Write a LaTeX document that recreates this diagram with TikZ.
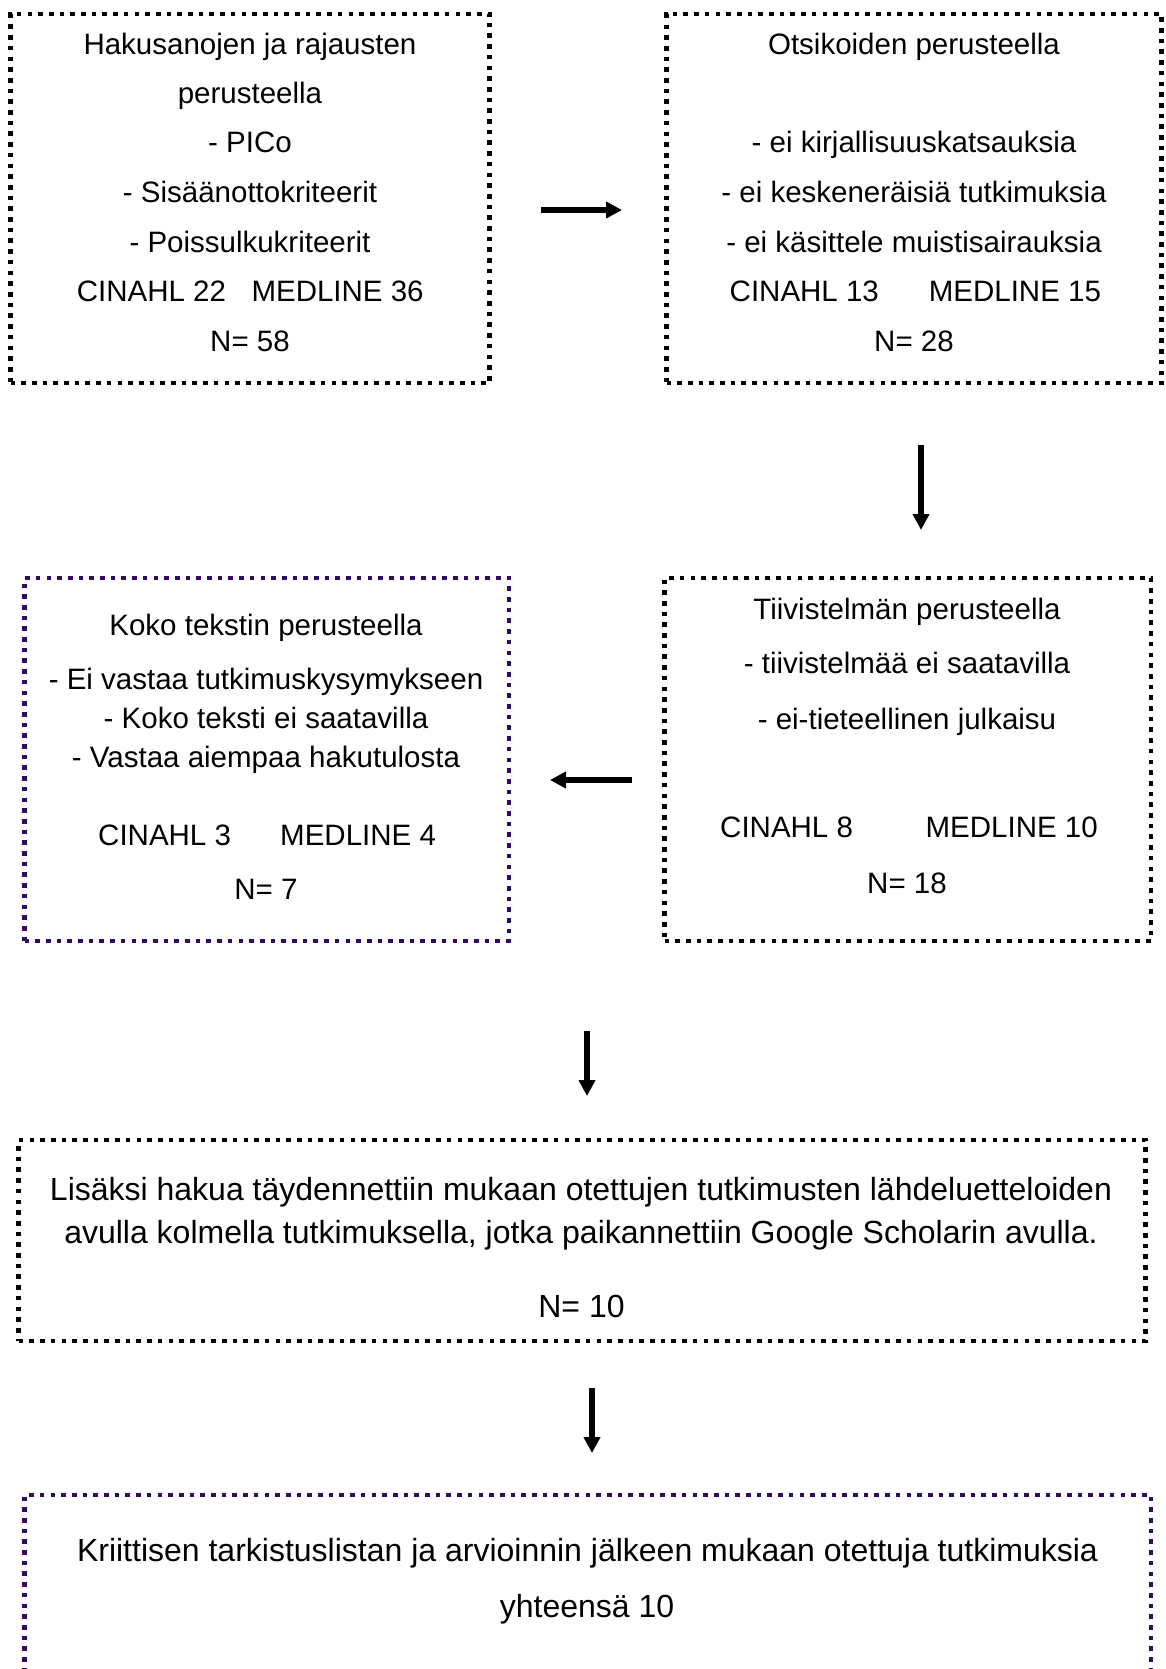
\documentclass[tikz,border=0pt]{standalone}
\usepackage{fontspec}
\setmainfont{Liberation Sans}
\usetikzlibrary{arrows.meta}
\definecolor{boxpurple}{RGB}{46,12,100}
\tikzset{
  boxline/.style={draw=black, line width=4.6pt, dash pattern=on 4.6pt off 6.1pt, rectangle, inner sep=0pt, fill=none},
  purplebox/.style={boxline, draw=boxpurple},
  txt/.style={font=\fontsize{29.5}{35}\selectfont, anchor=base, inner sep=0pt},
  bigtxt/.style={txt, font=\fontsize{32}{38}\selectfont},
  txtw/.style={txt, anchor=base west},
  arr/.style={line width=5.2pt, -{Triangle[length=16pt,width=16pt]}}
}
\begin{document}
\begin{tikzpicture}[x=1pt,y=-1pt]
\clip (0,0) rectangle (1165,1669);
\fill[white] (0,0) rectangle (1165,1669);
% boxes
\node[boxline, minimum width=479pt, minimum height=369pt] (b1) at (250,198.5) {};
\node[boxline, minimum width=495pt, minimum height=369pt] (b2) at (914,198.5) {};
\node[purplebox, minimum width=484.5pt, minimum height=363pt] (b3) at (266.75,759.5) {};
\node[boxline, minimum width=486.5pt, minimum height=363pt] (b4) at (907.75,759.5) {};
\node[boxline, minimum width=1127pt, minimum height=201pt] (b5) at (582.2,1240.5) {};
\node[purplebox, minimum width=1126.5pt, minimum height=260pt] (b6) at (587.75,1625) {};
% box 1 text
\node[txt] (t11) at (250,54.7) {Hakusanojen ja rajausten};
\node[txt] (t12) at (250,103.6) {perusteella};
\node[txt] (t13) at (250,152.6) {- PICo};
\node[txt] (t14) at (250,202.7) {- Sisäänottokriteerit};
\node[txt] (t15) at (250,252.7) {- Poissulkukriteerit};
\node[txtw] (t16) at (76.7,301.7) {CINAHL 22};
\node[txtw] (t17) at (251.3,301.7) {MEDLINE 36};
\node[txt] (t18) at (250,351.8) {N= 58};
% box 2 text
\node[txt] (t21) at (914,54.7) {Otsikoiden perusteella};
\node[txt] (t22) at (914,152.6) {- ei kirjallisuuskatsauksia};
\node[txt] (t23) at (914,202.7) {- ei keskeneräisiä tutkimuksia};
\node[txt] (t24) at (914,252.7) {- ei käsittele muistisairauksia};
\node[txtw] (t25) at (729.5,301.7) {CINAHL 13};
\node[txtw] (t26) at (928.6,301.7) {MEDLINE 15};
\node[txt] (t27) at (914,351.8) {N= 28};
% box 3 text
\node[txt] (t31) at (266,635) {Koko tekstin perusteella};
\node[txt] (t32) at (266,689) {- Ei vastaa tutkimuskysymykseen};
\node[txt] (t33) at (266,728) {- Koko teksti ei saatavilla};
\node[txt] (t34) at (266,767) {- Vastaa aiempaa hakutulosta};
\node[txtw] (t35) at (98,845) {CINAHL 3};
\node[txtw] (t36) at (280,845) {MEDLINE 4};
\node[txt] (t37) at (266,899) {N= 7};
% box 4 text
\node[txt] (t41) at (907,619) {Tiivistelmän perusteella};
\node[txt] (t42) at (907,673) {- tiivistelmää ei saatavilla};
\node[txt] (t43) at (907,729) {- ei-tieteellinen julkaisu};
\node[txtw] (t44) at (720,837) {CINAHL 8};
\node[txtw] (t45) at (925.4,837) {MEDLINE 10};
\node[txt] (t46) at (907,893) {N= 18};
% box 5 text
\node[bigtxt] (t51) at (581,1200) {Lisäksi hakua täydennettiin mukaan otettujen tutkimusten lähdeluetteloiden};
\node[bigtxt] (t52) at (581,1243) {avulla kolmella tutkimuksella, jotka paikannettiin Google Scholarin avulla.};
\node[bigtxt] (t53) at (581.5,1317.5) {N= 10};
% box 6 text
\node[bigtxt] (t61) at (587.5,1561) {Kriittisen tarkistuslistan ja arvioinnin jälkeen mukaan otettuja tutkimuksia};
\node[bigtxt] (t62) at (587,1617) {yhteensä 10};
% arrows
\coordinate (a1s) at (541,210); \coordinate (a1e) at (622,210);
\coordinate (a2s) at (921,445); \coordinate (a2e) at (921,530);
\coordinate (a3s) at (632,780); \coordinate (a3e) at (550,780);
\coordinate (a4s) at (587,1031); \coordinate (a4e) at (587,1096);
\coordinate (a5s) at (592,1388); \coordinate (a5e) at (592,1453);
\draw[arr] (a1s) -- (a1e);
\draw[arr] (a2s) -- (a2e);
\draw[arr] (a3s) -- (a3e);
\draw[arr] (a4s) -- (a4e);
\draw[arr] (a5s) -- (a5e);
\end{tikzpicture}
\end{document}
